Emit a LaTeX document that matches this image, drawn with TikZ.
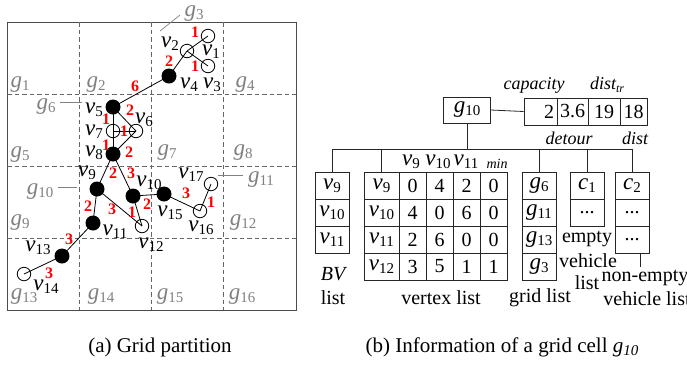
\documentclass[tikz,border=0pt]{standalone}
\usepackage{fontspec}
\setmainfont{Liberation Serif}
\newcommand\sbs[1]{\raisebox{-0.3ex}{\fontsize{15}{15}\selectfont #1}}
\newcommand\vx[1]{{\fontsize{23}{24}\selectfont\textit{v}}\sbs{#1}}
\newcommand\gx[1]{{\fontsize{23}{24}\selectfont\textit{g}}\sbs{#1}}
\newcommand\cx[1]{{\fontsize{23}{24}\selectfont\textit{c}}\sbs{#1}}
\begin{document}
\begin{tikzpicture}[x=1pt,y=-1pt,
  every node/.style={inner sep=0pt, font=\fontsize{20}{22}\selectfont},
  fv/.style={circle, fill=black, minimum size=15pt},
  ov/.style={circle, draw=black, line width=0.8pt, minimum size=13.5pt},
  vedge/.style={black, line width=0.8pt},
  wt/.style={text=red, font=\fontsize{16}{16}\selectfont\bfseries},
  gl/.style={text=gray},
  lead/.style={gray, line width=0.7pt},
  gridline/.style={gray!80!black, line width=0.9pt, dash pattern=on 4.5pt off 3pt},
  outerframe/.style={gray!60!black, line width=0.9pt},
  cell/.style={draw=black!85, line width=0.8pt, minimum height=27pt},
  tline/.style={black!85, line width=0.8pt},
  note/.style={font=\fontsize{18}{20}\selectfont\itshape},
  captxt/.style={font=\fontsize{21}{24}\selectfont},
]
\useasboundingbox (0,0) rectangle (687,368);

% ---------- (a) grid ----------
\draw[outerframe] (7,22) rectangle (296,310);
\foreach \xx in {79.25,151.5,223.75} \draw[gridline] (\xx,22) -- (\xx,310);
\foreach \yy in {94,166,238} \draw[gridline] (7,\yy) -- (296,\yy);

% grid labels
\node[gl] (g1) at (20,85) {\gx{1}};
\node[gl] (g2) at (96,85) {\gx{2}};
\node[gl] (g3) at (194,14) {\gx{3}};
\node[gl] (g4) at (245,85) {\gx{4}};
\node[gl] (g5) at (20,155) {\gx{5}};
\node[gl] (g6) at (46,107) {\gx{6}};
\node[gl] (g7) at (167,153) {\gx{7}};
\node[gl] (g8) at (243,153) {\gx{8}};
\node[gl] (g9) at (20,223) {\gx{9}};
\node[gl] (g10l) at (40,192) {\gx{10}};
\node[gl] (g11) at (261,180) {\gx{11}};
\node[gl] (g12) at (243,223) {\gx{12}};
\node[gl] (g13) at (24,297) {\gx{13}};
\node[gl] (g14) at (101,297) {\gx{14}};
\node[gl] (g15) at (170,297) {\gx{15}};
\node[gl] (g16) at (242,297) {\gx{16}};

\coordinate (g3a) at (160,31); \coordinate (g3b) at (180,15);
\coordinate (g6a) at (60,102); \coordinate (g6b) at (82,102);
\coordinate (g10a) at (58,187); \coordinate (g10b) at (77,187);
\coordinate (g11a) at (218,175); \coordinate (g11b) at (243,175);
\draw[lead] (g3a) -- (g3b);
\draw[lead] (g6a) -- (g6b);
\draw[lead] (g10a) -- (g10b);
\draw[lead] (g11a) -- (g11b);

% vertices
\node[ov] (v1) at (208,36) {};
\node[ov] (v2) at (187,51) {};
\node[ov] (v3) at (208,66) {};
\node[fv] (v4) at (169,76) {};
\node[fv] (v5) at (113,107) {};
\node[ov] (v6) at (136,131) {};
\node[ov] (v7) at (113,131) {};
\node[fv] (v8) at (113,154) {};
\node[fv] (v9) at (97,189) {};
\node[fv] (v10) at (133,196) {};
\node[fv] (v11) at (93,223) {};
\node[ov] (v12) at (142,226) {};
\node[fv] (v13) at (62,256) {};
\node[ov] (v14) at (24,274) {};
\node[fv] (v15) at (164,194) {};
\node[ov] (v16) at (200,211) {};
\node[ov] (v17) at (211,184) {};

\foreach \a/\b in {v2/v1,v2/v3,v2/v4,v4/v5,v5/v7,v7/v8,v7/v6,v5/v6,v6/v8,v8/v9,v8/v10,v9/v11,v9/v12,v10/v12,v10/v15,v15/v16,v16/v17,v11/v13,v13/v14}
  \draw[vedge] (\a.center) -- (\b.center);

% vertex labels
\node (l1) at (211,52) {\vx{1}};
\node (l2) at (170,44) {\vx{2}};
\node (l3) at (212,85) {\vx{3}};
\node (l4) at (189,85) {\vx{4}};
\node (l5) at (94,110) {\vx{5}};
\node (l6) at (144,120) {\vx{6}};
\node (l7) at (94,132) {\vx{7}};
\node (l8) at (94,153) {\vx{8}};
\node (l9) at (87,173) {\vx{9}};
\node (l10) at (149,183) {\vx{10}};
\node (l11) at (115,232) {\vx{11}};
\node (l12) at (151,245) {\vx{12}};
\node (l13) at (38,248) {\vx{13}};
\node (l14) at (46,287) {\vx{14}};
\node (l15) at (170,213) {\vx{15}};
\node (l16) at (201,228) {\vx{16}};
\node (l17) at (191,175) {\vx{17}};

% weights
\node[wt] (w21) at (195,32) {1};
\node[wt] (w23) at (195,66) {1};
\node[wt] (w24) at (169,61) {2};
\node[wt] (w45) at (135,86) {6};
\node[wt] (w56) at (130,110) {2};
\node[wt] (w57) at (106,119) {1};
\node[wt] (w76) at (124,131) {1};
\node[wt] (w78) at (106,145) {1};
\node[wt] (w68) at (129,152) {2};
\node[wt] (w89) at (113,173) {2};
\node[wt] (w810) at (131,173) {3};
\node[wt] (w911) at (88,206) {2};
\node[wt] (w912) at (112,209) {3};
\node[wt] (w1012) at (132,212) {1};
\node[wt] (w1015) at (147,204) {2};
\node[wt] (w1516) at (186,193) {3};
\node[wt] (w1617) at (211,202) {1};
\node[wt] (w1113) at (69,239) {3};
\node[wt] (w1314) at (49,273) {3};

\node[captxt] (capa) at (160,347) {(a) Grid partition};

% ---------- (b) grid cell information ----------
\node[cell, minimum width=47pt, minimum height=26pt] (g10) at (467,110) {\gx{10}};
\node[cell, minimum width=33pt, text width=27pt, align=right] (c1) at (540.5,111.5) {2};
\node[cell, minimum width=31pt] (c2) at (572.5,111.5) {3.6};
\node[cell, minimum width=32pt] (c3) at (604,111.5) {19};
\node[cell, minimum width=27pt] (c4) at (633.5,111.5) {18};
\draw[tline] (g10.east) -- (c1.west);

\node[note] (ncap) at (534,85) {capacity};
\node[note] (ndtr) at (607,85) {dist\sbs{\fontsize{12}{12}\selectfont\itshape tr}};
\node[note] (ndet) at (569,138) {detour};
\node[note] (ndist) at (635,138) {dist};

% BV list
\foreach \v [count=\i] in {9,10,11}
  \node[cell, minimum width=34pt] (bv\i) at (332,{158.5+27*\i}) {\vx{\v}};

% vertex list
\foreach \rr/\a/\b/\c/\d [count=\i] in {9/0/4/2/0,10/4/0/6/0,11/2/6/0/0,12/3/5/1/1}{
  \node[cell, minimum width=35pt] (vt\i) at (381.5,{158.5+27*\i}) {\vx{\rr}};
  \node[cell, minimum width=27pt] (vt\i a) at (412.5,{158.5+27*\i}) {\a};
  \node[cell, minimum width=27pt] (vt\i b) at (439.5,{158.5+27*\i}) {\b};
  \node[cell, minimum width=27pt] (vt\i c) at (466.5,{158.5+27*\i}) {\c};
  \node[cell, minimum width=27pt] (vt\i d) at (493.5,{158.5+27*\i}) {\d};
}
\node (h1) at (411,162) {\vx{9}};
\node (h2) at (438,162) {\vx{10}};
\node (h3) at (466,162) {\vx{11}};
\node[font=\fontsize{14}{14}\selectfont\itshape] (h4) at (497,164) {min};

% grid list
\foreach \g [count=\i] in {6,11,13,3}
  \node[cell, minimum width=34pt] (gr\i) at (539,{158.5+27*\i}) {\gx{\g}};

% empty vehicle list
\node[cell, minimum width=34pt] (ev1) at (587,185.5) {\cx{1}};
\node[cell, minimum width=34pt] (ev2) at (587,212.5) {...};

% non-empty vehicle list
\node[cell, minimum width=34pt] (nev1) at (632,185.5) {\cx{2}};
\node[cell, minimum width=34pt] (nev2) at (632,212.5) {...};
\node[cell, minimum width=34pt] (nev3) at (632,239.5) {...};

% tree connectors
\coordinate (busy) at (0,149);
\draw[tline] (g10.south) -- (g10.south |- busy);
\draw[tline] (bv1.north) -- (bv1.north |- busy) -- (nev1.north |- busy) -- (nev1.north);
\draw[tline] (vt1.north) -- (vt1.north |- busy);
\draw[tline] (gr1.north) -- (gr1.north |- busy);
\draw[tline] (ev1.north) -- (ev1.north |- busy);
\coordinate (netail) at (640,267);
\draw[tline] (nev3.south -| netail) -- (netail);

% list labels
\node[font=\fontsize{20}{22}\selectfont\itshape] (bvl1) at (333,274) {BV};
\node (bvl2) at (333,298) {list};
\node (vtl) at (441,298) {vertex list};
\node (grl) at (540,298) {grid list};
\node (evl1) at (587,239) {empty};
\node (evl2) at (588,261) {vehicle};
\node (evl3) at (587,283) {list};
\node (nel1) at (645,278) {non-empty};
\node (nel2) at (647,299) {vehicle list};

\node[captxt] (capb) at (502,347) {(b) Information of a grid cell \textit{g}\sbs{\textit{10}}};
\end{tikzpicture}
\end{document}
